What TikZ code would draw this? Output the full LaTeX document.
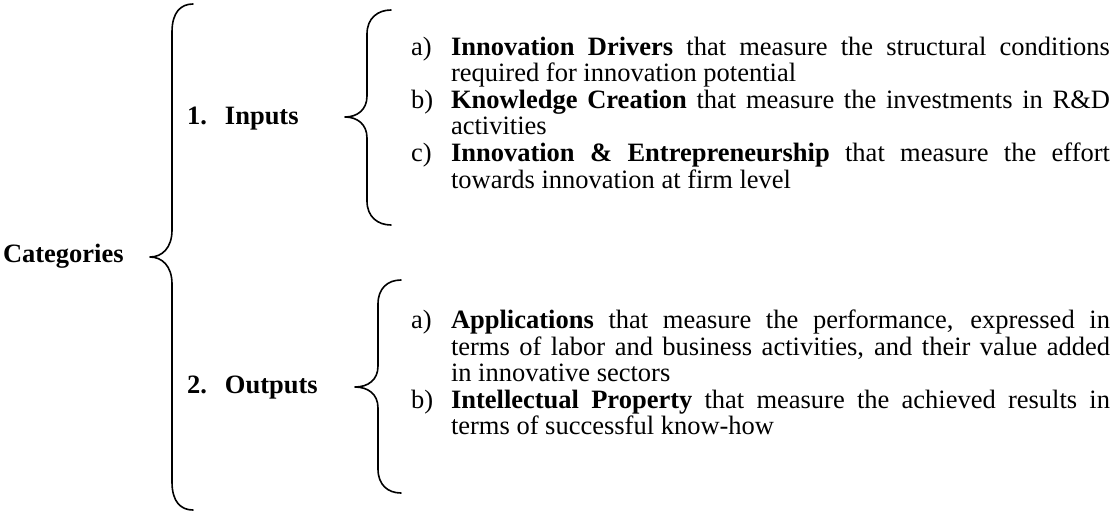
\documentclass[tikz,border=0pt]{standalone}
\usepackage{fontspec}
\setmainfont{Liberation Serif}
\tikzset{
  txt/.style={inner sep=0pt, outer sep=0pt, anchor=base west,
    font=\fontsize{26.5}{26.6}\selectfont},
  itemtxt/.style={txt, text width=659pt, align=justify},
  bracestyle/.style={line width=1.6pt, line cap=round, line join=round}
}
\begin{document}
\begin{tikzpicture}[x=1pt,y=-1pt]
\useasboundingbox (0,0) rectangle (1115,512);

% left labels
\node[txt] (cat) at (3,262) {\textbf{Categories}};
\node[txt] (inp) at (187,124) {\textbf{\makebox[38pt][l]{1.}Inputs}};
\node[txt] (outp) at (187,393) {\textbf{\makebox[38pt][l]{2.}Outputs}};

% big brace
\draw[bracestyle] (193,4) .. controls (181,4) and (172,12) .. (172,32)
  -- (172,230) .. controls (172,248) and (162,257) .. (150,257)
  .. controls (162,257) and (172,266) .. (172,284)
  -- (172,482) .. controls (172,502) and (181,510) .. (193,510);

% inputs brace
\draw[bracestyle] (391,10) .. controls (378,10) and (367,18) .. (367,34)
  -- (367,96) .. controls (367,110) and (357,117) .. (345,117)
  .. controls (357,117) and (367,124) .. (367,138)
  -- (367,201) .. controls (367,217) and (378,225) .. (391,225);

% outputs brace
\draw[bracestyle] (401,280) .. controls (388,280) and (378,288) .. (378,304)
  -- (378,366) .. controls (378,380) and (368,387) .. (355,387)
  .. controls (368,387) and (378,394) .. (378,408)
  -- (378,469) .. controls (378,485) and (388,493) .. (401,493);

% input items
\node[txt] (la1) at (411,55) {a)};
\node[itemtxt] (ia1) at (451,55) {\textbf{Innovation Drivers} that measure the structural conditions\linebreak required for innovation potential};
\node[txt] (lb1) at (411,108.2) {b)};
\node[itemtxt] (ib1) at (451,108.2) {\textbf{Knowledge Creation} that measure the investments in R\&D\linebreak activities};
\node[txt] (lc1) at (411,161.4) {c)};
\node[itemtxt] (ic1) at (451,161.4) {\textbf{Innovation \& Entrepreneurship} that measure the effort\linebreak towards innovation at firm level};

% output items
\node[txt] (la2) at (411,328.5) {a)};
\node[itemtxt] (ia2) at (451,328.5) {\textbf{Applications} that measure the performance, expressed in\linebreak terms of labor and business activities, and their value added\linebreak in innovative sectors};
\node[txt] (lb2) at (411,408.3) {b)};
\node[itemtxt] (ib2) at (451,408.3) {\textbf{Intellectual Property} that measure the achieved results in\linebreak terms of successful know-how};
\end{tikzpicture}
\end{document}
